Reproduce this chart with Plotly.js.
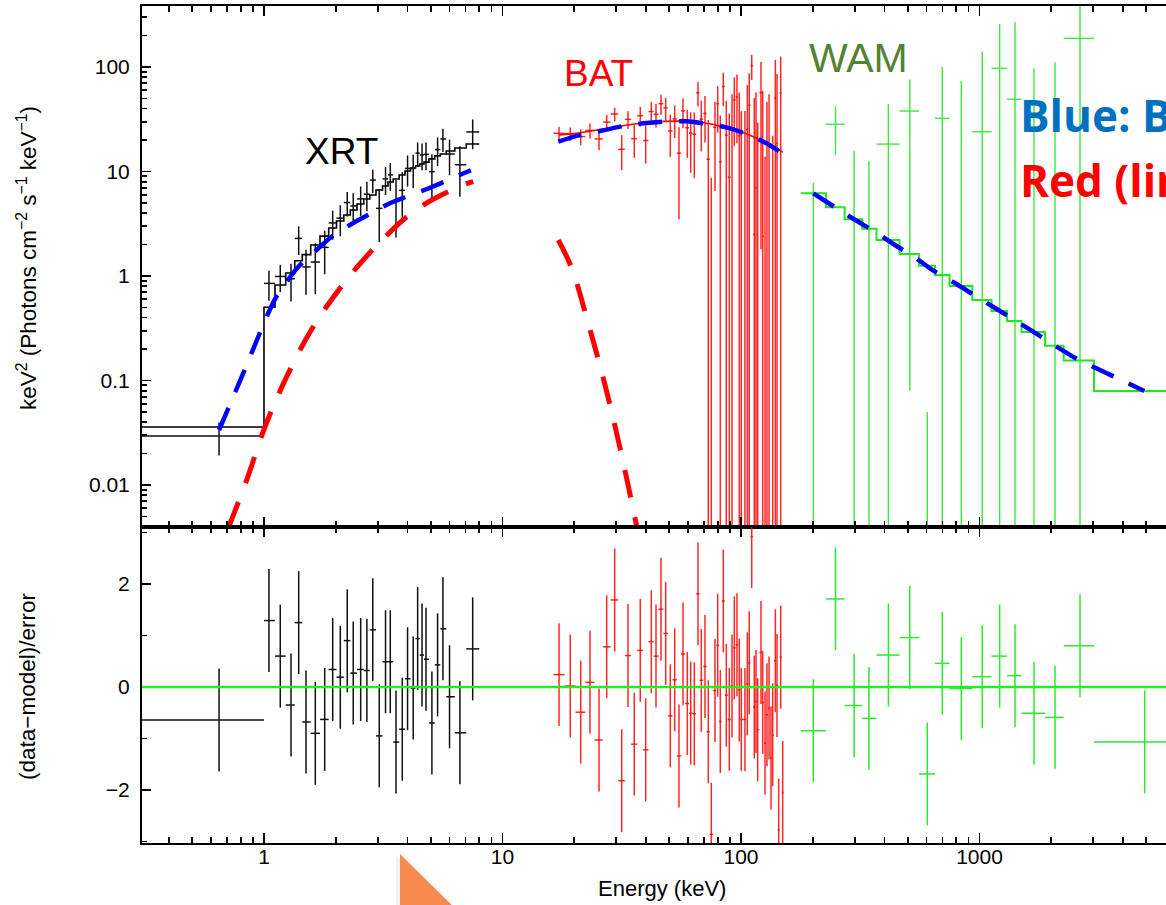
<!DOCTYPE html>
<html><head><meta charset="utf-8">
<script src="https://cdn.plot.ly/plotly-3.0.1.min.js"></script>
<style>html,body{margin:0;padding:0;background:#fff;overflow:hidden}#chart{width:1166px;height:905px}</style>
</head><body><div id="chart"></div>
<script>
// ---------------- XRT ----------------
const xrtEdges = [0.3, 1.0, 1.112, 1.233, 1.346, 1.447, 1.570, 1.717, 1.867, 2.014, 2.161, 2.301, 2.455, 2.621, 2.777, 2.948, 3.140, 3.311, 3.481, 3.688, 3.902, 4.115, 4.318, 4.500, 4.688, 4.918, 5.202, 5.486, 5.812, 6.310, 7.050, 7.992];
const xrtE = [0.648, 1.049, 1.170, 1.298, 1.398, 1.500, 1.641, 1.797, 1.941, 2.089, 2.234, 2.367, 2.543, 2.700, 2.858, 3.043, 3.233, 3.385, 3.577, 3.800, 3.999, 4.223, 4.408, 4.598, 4.778, 5.059, 5.344, 5.627, 5.997, 6.628, 7.500];
const xrtModel = [0.0359, 0.502, 0.82, 1.07, 1.4, 1.6, 1.98, 2.41, 2.88, 3.36, 3.83, 4.28, 4.89, 5.46, 5.96, 6.65, 7.26, 7.93, 8.48, 9.26, 10.1, 10.8, 11.3, 11.8, 12.3, 13.2, 14.1, 14.7, 15.7, 16.8, 18.3];
const xrtData = [0.0294, 0.85, 0.99, 0.94, 2.29, 1.22, 1.36, 1.88, 3.22, 3.58, 5.04, 4.68, 5.47, 6.07, 8.28, 4.44, 8.50, 9.29, 5.30, 6.60, 10.7, 10.7, 15.0, 14.4, 14.6, 9.97, 16.2, 20.5, 14.7, 11.6, 23.9];
const xrtErr = [0.0102, 0.27, 0.29, 0.37, 0.7, 0.56, 0.69, 0.84, 1.0, 1.18, 1.34, 1.5, 1.71, 1.91, 2.09, 2.33, 2.54, 2.78, 2.97, 3.24, 3.54, 3.78, 3.96, 4.13, 4.3, 4.62, 4.94, 5.15, 5.5, 5.88, 7.6];
const xrtRes = [-0.64, 1.29, 0.60, -0.35, 1.25, -0.68, -0.90, -0.63, 0.34, 0.19, 0.90, 0.27, 0.34, 0.32, 1.11, -0.95, 0.49, 0.49, -1.07, -0.82, 0.16, -0.02, 0.94, 0.62, 0.54, -0.70, 0.43, 1.13, -0.19, -0.89, 0.74];

// ---------------- BAT ----------------
const batE = [17.26, 19.24, 21.28, 23.27, 25.39, 27.35, 29.54, 31.61, 33.59, 35.69, 37.82, 39.85, 42.07, 44.02, 46.20, 48.34, 50.53, 52.73, 54.95, 57.13, 59.55, 61.53, 63.71, 66.03, 68.16, 70.65, 72.93, 75.07, 77.80, 79.86, 81.89, 84.30, 86.78, 89.32, 91.69, 93.74, 96.21, 98.38, 100.3, 103.9, 106.3, 108.3, 110.9, 113.7, 115.6, 117.5, 121.3, 123.3, 126.1, 128.5, 131.1, 133.6, 135.8, 139.3, 141.6, 143.9, 146.7, 149.6];
const batModel = [22.4, 22.9, 23.5, 24.3, 25.1, 25.8, 26.5, 27.2, 27.9, 28.5, 29.0, 29.4, 29.7, 29.9, 30.1, 30.2, 30.3, 30.35, 30.35, 30.35, 30.3, 30.2, 30.0, 29.8, 29.5, 29.1, 28.8, 28.4, 27.9, 27.5, 27.1, 26.7, 26.3, 25.8, 25.3, 24.9, 24.5, 24.1, 23.7, 23.2, 22.7, 22.4, 21.9, 21.2, 21.0, 20.6, 19.9, 19.5, 19.1, 18.7, 18.3, 17.9, 17.5, 16.9, 16.5, 16.2, 15.7, 15.3];
const batData = [23.2, 23.0, 21.6, 24.7, 20.5, 29.7, 35.5, 16.3, 31.6, 20.6, 34.2, 19.8, 37.5, 35.3, 44.6, 40.6, 24.4, 31.9, 15.0, 38.1, 26.2, 23.3, 22.7, 56.8, 31.6, 35.9, 13.1, -1.9, 26.5, 44.5, 12.4, 65.1, 22.3, 8.8, 25.9, 48.5, 51.6, 22.0, -0.2, -2.0, 25.2, 43.1, 103.1, 2.5, 7.0, -22.6, 56.8, 2.4, -44.1, -13.7, -7.1, -69.0, -42.0, 50.6, 18.5, -53.3, 56.3, -46.2];
const batErr = [3.4, 3.4, 3.8, 4.1, 4.5, 5.0, 5.3, 6.0, 6.1, 7.1, 7.3, 7.9, 8.9, 9.0, 9.6, 10, 10.6, 11, 11.5, 12.1, 12.7, 13.6, 14.1, 14.9, 16, 17, 18, 10.6, 20, 21, 22, 23, 25, 27, 29, 31, 33, 35, 38, 40, 42, 44, 27.8, 48, 50, 52, 55, 57, 58, 60, 62, 63, 64, 66, 67, 25, 70, 30];
const batRes = [0.24, 0.02, -0.49, 0.09, -1.03, 0.78, 1.69, -1.82, 0.61, -1.11, 0.71, -1.22, 0.88, 0.60, 1.51, 1.04, -0.56, 0.14, -1.34, 0.64, -0.32, -0.51, -0.52, 1.81, 0.13, 0.40, -0.87, -2.86, -0.07, 0.81, -0.67, 1.67, -0.16, -0.63, 0.02, 0.76, 0.82, -0.06, -0.63, -0.63, 0.06, 0.47, 2.92, -0.39, -0.28, -0.83, 0.67, -0.30, -1.09, -0.54, -0.41, -1.38, -0.93, 0.51, 0.03, -2.78, 0.58, -2.05];

// ---------------- WAM ----------------
const wamEdges = [178, 227, 272, 322, 370, 462, 558, 651, 749, 933, 1123, 1304, 1500, 1883, 2254, 3021, 8040];
const wamE = [201, 249, 298, 344, 415, 510, 604, 698, 839, 1027, 1215, 1409, 1692, 2073, 2639, 4927];
const wamModel = [6.18, 4.54, 3.49, 2.84, 2.21, 1.62, 1.25, 1.02, 0.802, 0.589, 0.462, 0.371, 0.291, 0.215, 0.155, 0.0793];
const wamData = [-3.1, 28.3, -3.4, -12.4, 18.3, 37.9, -1.7, 32.3, -1.4, 24.0, 97.2, 49.1, -100, -159, 188, -1.2];
const wamErr = [10.9, 13.9, 19.1, 25, 26, 37.82, 1.75, 68, 75, 117, 161, 221, 197, 270, 235, 1.2];
const wamRes = [-0.85, 1.71, -0.36, -0.61, 0.62, 0.96, -1.69, 0.46, -0.03, 0.20, 0.60, 0.22, -0.51, -0.59, 0.80, -1.07];

// ---------------- model components ----------------
const bandXrtE = [0.648, 0.846, 1.0, 1.112, 1.245, 1.393, 1.663, 1.922, 2.33, 2.78, 3.37, 4.07, 5.09, 6.07, 7.37];
const bandXrtF = [0.0336, 0.1406, 0.355, 0.602, 0.882, 1.227, 1.774, 2.377, 3.145, 3.92, 4.96, 5.87, 7.15, 8.53, 10.27];
const bandBatE = [17.14, 21.1, 25.6, 32.6, 38.9, 48.0, 59.2, 72.9, 89.9, 109, 128, 150];
const bandBatF = [19.3, 22.3, 24.4, 27.4, 28.9, 30.0, 30.2, 28.5, 25.9, 22.0, 18.6, 14.7];
const bandWamE = [201, 248, 298, 367, 442, 545, 651, 803, 973, 1199, 1440, 1764, 2140, 2639, 3201, 4009, 4909];
const bandWamF = [6.18, 4.54, 3.49, 2.62, 1.98, 1.464, 1.099, 0.833, 0.634, 0.473, 0.365, 0.273, 0.206, 0.155, 0.126, 0.099, 0.0793];
const bbXrtE = [0.708, 0.846, 1.01, 1.245, 1.585, 2.15, 3.01, 4.37, 6.85, 7.54];
const bbXrtF = [0.00386, 0.01116, 0.0361, 0.1088, 0.309, 0.838, 2.024, 4.35, 7.43, 7.99];
const bbBatE = [17.14, 19.5, 22.8, 26.9, 31.1, 36.6, 41.5];
const bbBatF = [2.21, 1.19, 0.363, 0.0906, 0.0226, 0.00396, 0.00099];

// ---------------- helpers ----------------
const FLOOR = 1e-5;
function binEdgesFromCenters(c){
  const lo=[],hi=[];
  for(let i=0;i<c.length;i++){
    const l = i>0 ? Math.sqrt(c[i-1]*c[i]) : c[0]*c[0]/Math.sqrt(c[0]*c[1]);
    const h = i<c.length-1 ? Math.sqrt(c[i]*c[i+1]) : c[i]*c[i]/Math.sqrt(c[i-1]*c[i]);
    lo.push(l); hi.push(h);
  }
  return {lo,hi};
}
function crosses(xc, lo, hi, y, e, logY){
  const X=[],Y=[];
  for(let i=0;i<xc.length;i++){
    const ei = Array.isArray(e)? e[i] : e;
    if(!logY || y[i]>0){ X.push(lo[i],hi[i],null); Y.push(y[i],y[i],null); }
    let top=y[i]+ei, bot=y[i]-ei;
    if(logY){ if(top<=0) continue; if(bot<=0) bot=FLOOR; }
    X.push(xc[i],xc[i],null); Y.push(bot,top,null);
  }
  return {X,Y};
}
function stepLine(edges, vals){ return {x: edges.slice(), y: vals.concat([vals[vals.length-1]])}; }

const xrtLo = xrtEdges.slice(0,-1), xrtHi = xrtEdges.slice(1);
const batB = binEdgesFromCenters(batE);
const wamLo = wamEdges.slice(0,-1), wamHi = wamEdges.slice(1);

const traces = [];
function segTrace(s, color, width, xa, ya){
  return {x:s.X, y:s.Y, mode:'lines', line:{color:color, width:width}, connectgaps:false,
          xaxis:xa, yaxis:ya, hoverinfo:'skip', showlegend:false};
}
// top panel
traces.push(segTrace(crosses(xrtE, xrtLo, xrtHi, xrtData, xrtErr, true), '#111', 1.5, 'x', 'y'));
const xs = stepLine(xrtEdges, xrtModel);
traces.push({x:xs.x, y:xs.y, mode:'lines', line:{color:'#000', width:1.6, shape:'hv'}, xaxis:'x', yaxis:'y', hoverinfo:'skip'});
traces.push(segTrace(crosses(batE, batB.lo, batB.hi, batData, batErr, true), 'rgba(255,0,0,0.85)', 1.5, 'x', 'y'));
traces.push({x:batE, y:batModel, mode:'lines', line:{color:'#ff0000', width:1.6, shape:'spline'}, xaxis:'x', yaxis:'y', hoverinfo:'skip'});
traces.push(segTrace(crosses(wamE, wamLo, wamHi, wamData, wamErr, true), '#3be83b', 1.4, 'x', 'y'));
const ws = stepLine(wamEdges, wamModel);
traces.push({x:ws.x, y:ws.y, mode:'lines', line:{color:'#1ee81e', width:2, shape:'hv'}, xaxis:'x', yaxis:'y', hoverinfo:'skip'});
const redDash = '28px,20px', blueDash = '24px,17px';
traces.push({x:bbXrtE, y:bbXrtF, mode:'lines', line:{color:'#ff0000', width:5, dash:redDash, shape:'spline'}, xaxis:'x', yaxis:'y', hoverinfo:'skip'});
traces.push({x:bbBatE, y:bbBatF, mode:'lines', line:{color:'#ff0000', width:5, dash:redDash, shape:'spline'}, xaxis:'x', yaxis:'y', hoverinfo:'skip'});
[[bandXrtE,bandXrtF],[bandBatE,bandBatF],[bandWamE,bandWamF]].forEach(p=>{
  traces.push({x:p[0], y:p[1], mode:'lines', line:{color:'#0000ff', width:4.5, dash:blueDash, shape:'spline'}, xaxis:'x', yaxis:'y', hoverinfo:'skip'});
});
// residual panel
traces.push(segTrace(crosses(xrtE, xrtLo, xrtHi, xrtRes, 1, false), '#111', 1.5, 'x2', 'y2'));
traces.push(segTrace(crosses(batE, batB.lo, batB.hi, batRes, 1, false), 'rgba(255,0,0,0.85)', 1.5, 'x2', 'y2'));
traces.push(segTrace(crosses(wamE, wamLo, wamHi, wamRes, 1, false), '#2ee82e', 1.5, 'x2', 'y2'));
// dummy traces so the minor-tick overlay axes exist
[['x3','y'],['x4','y2'],['x','y3'],['x2','y4']].forEach(a=>traces.push({x:[null],y:[null],xaxis:a[0],yaxis:a[1],mode:'markers',hoverinfo:'skip',showlegend:false}));

// ---------------- layout ----------------
const L=142, T=6, W=1024, H=837, B=843;
const px = x => (x-L)/W, py = y => (B-y)/H;
const XR=[-0.5115, 3.782], YR=[-2.4019, 2.5837], RR=[-3.03, 3.107];
const dom = 316/837;
const minorLog = (a,b)=>{const o=[];for(let d=-3;d<=4;d++)for(let k=2;k<=9;k++){const v=k*Math.pow(10,d); if(Math.log10(v)>a && Math.log10(v)<b) o.push(v);}return o;};
const FONT = 'Liberation Sans, Arial, Helvetica, sans-serif';
const base = {showgrid:false, zeroline:false, ticks:'inside', tickcolor:'#000', tickwidth:1.8, fixedrange:true};
const tickFont = {family:FONT, size:21, color:'#000'};
function ann(text, x, y, font, extra){
  return Object.assign({text:text, xref:'paper', yref:'paper', x:px(x), y:py(y), xanchor:'center', yanchor:'middle', showarrow:false, font:font}, extra||{});
}

const layout = {
  width:1166, height:905, margin:{l:L, r:0, t:T, b:62, pad:0},
  paper_bgcolor:'#fff', plot_bgcolor:'rgba(0,0,0,0)', showlegend:false,
  font:{family:FONT, color:'#000'},
  xaxis: Object.assign({}, base, {type:'log', range:XR, domain:[0,1], anchor:'y', tickvals:[1,10,100,1000], ticklen:10, showticklabels:false, showline:true, linewidth:2, linecolor:'#000', mirror:'ticks'}),
  xaxis3: Object.assign({}, base, {type:'log', range:XR, overlaying:'x', anchor:'y', tickvals:minorLog(XR[0],XR[1]), ticklen:6, showticklabels:false, showline:false, mirror:'ticks'}),
  xaxis2: Object.assign({}, base, {type:'log', range:XR, domain:[0,1], anchor:'y2', tickvals:[1,10,100,1000], ticktext:['1','10','100','1000'], ticklen:10, tickfont:tickFont, ticklabelstandoff:-6, showline:true, linewidth:1.6, linecolor:'#000', mirror:'ticks'}),
  xaxis4: Object.assign({}, base, {type:'log', range:XR, overlaying:'x2', anchor:'y2', tickvals:minorLog(XR[0],XR[1]), ticklen:6, showticklabels:false, showline:false, mirror:'ticks'}),
  yaxis: Object.assign({}, base, {type:'log', range:YR, domain:[dom,1], anchor:'x', tickvals:[0.01,0.1,1,10,100], ticktext:['0.01','0.1','1','10','100'], ticklen:9, tickfont:tickFont, ticklabelstandoff:6, showline:true, linewidth:2, linecolor:'#000'}),
  yaxis3: Object.assign({}, base, {type:'log', range:YR, overlaying:'y', anchor:'x', tickvals:minorLog(YR[0],YR[1]), ticklen:5, showticklabels:false, showline:false}),
  yaxis2: Object.assign({}, base, {type:'linear', range:RR, domain:[0,dom], anchor:'x2', tickvals:[-2,0,2], ticktext:['\u22122','0','2'], ticklen:9, tickfont:tickFont, ticklabelstandoff:6, showline:true, linewidth:2, linecolor:'#000'}),
  yaxis4: Object.assign({}, base, {type:'linear', range:RR, overlaying:'y2', anchor:'x2', tickvals:[-3,-1,1,3], ticklen:5, showticklabels:false, showline:false}),
  shapes: [
    {type:'line', xref:'paper', yref:'y2', x0:0, x1:1, y0:0, y1:0, line:{color:'#22ee22', width:2.5}, layer:'above'},
    {type:'path', xref:'paper', yref:'paper', path:`M ${px(396)},${py(856)} L ${px(396)},${py(915)} L ${px(456)},${py(915)} Z`, fillcolor:'rgba(0,0,0,0.05)', line:{width:0}},
    {type:'path', xref:'paper', yref:'paper', path:`M ${px(400)},${py(854)} L ${px(400)},${py(915)} L ${px(462)},${py(915)} Z`, fillcolor:'#f58b4c', line:{width:0}}
  ],
  annotations: [
    ann('XRT', 341, 151, {family:FONT, size:37, color:'#000'}),
    ann('BAT', 598, 74, {family:FONT, size:37, color:'#ff0000'}),
    ann('WAM', 858, 58, {family:FONT, size:41, color:'#548235'}),
    ann('<b>Blue: Band function</b>', 1018, 115, {family:'Open Sans, sans-serif', size:44, color:'#0070c0'}, {xanchor:'left'}),
    ann('<b>Red (line): blackbody</b>', 1018, 180, {family:'Open Sans, sans-serif', size:44, color:'#ff0000'}, {xanchor:'left'}),
    ann('keV<sup>2</sup> (Photons cm<sup>\u22122</sup> s<sup>\u22121</sup> keV<sup>\u22121</sup>)', 27, 258, {family:FONT, size:22.5, color:'#000'}, {textangle:-90}),
    ann('(data\u2212model)/error', 27, 687, {family:FONT, size:22.5, color:'#000'}, {textangle:-90}),
    ann('Energy (keV)', 662, 888, {family:FONT, size:22, color:'#000'})
  ]
};
Plotly.newPlot('chart', traces, layout, {staticPlot:true, displayModeBar:false});
</script></body></html>
